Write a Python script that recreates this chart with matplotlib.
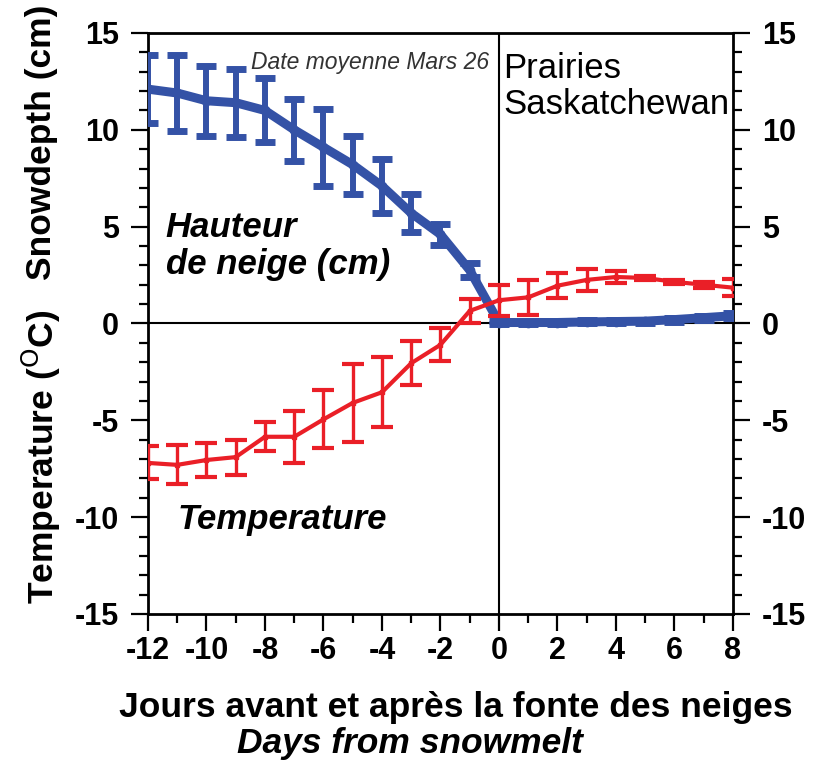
import matplotlib
matplotlib.use("Agg")
import matplotlib.pyplot as plt
from matplotlib.ticker import MultipleLocator

plt.rcParams["axes.unicode_minus"] = False

# days relative to snowmelt
DAYS = list(range(-12, 9))
# snow depth (cm): mean and error bar half-width
SNOW = [12.1, 11.9, 11.5, 11.4, 11.0, 10.0, 9.1, 8.2, 7.1, 5.7, 4.6, 2.75,
        0.05, 0.05, 0.05, 0.08, 0.1, 0.12, 0.2, 0.3, 0.4]
SNOW_ERR = [1.75, 1.95, 1.8, 1.75, 1.65, 1.6, 2.0, 1.5, 1.4, 1.0, 0.55, 0.35,
            0.08, 0.08, 0.08, 0.08, 0.08, 0.08, 0.1, 0.1, 0.12]
# temperature (deg C)
TEMP = [-7.2, -7.3, -7.05, -6.9, -5.85, -5.85, -4.95, -4.1, -3.55, -2.05, -1.1, 0.65,
        1.2, 1.35, 1.95, 2.25, 2.4, 2.35, 2.15, 2.0, 1.85]
TEMP_ERR = [0.85, 1.0, 0.9, 0.9, 0.75, 1.35, 1.5, 2.0, 1.8, 1.15, 0.85, 0.6,
            0.8, 0.9, 0.65, 0.55, 0.3, 0.1, 0.1, 0.15, 0.45]

BLUE = "#3452a6"
RED = "#ea1f27"
SANS = ["Liberation Sans", "DejaVu Sans"]

fig = plt.figure(figsize=(8.23, 7.67), dpi=100)
ax = fig.add_axes([0.1798, 0.1995, 0.7108, 0.7575])

ax.axhline(0, color="black", lw=1.5, zorder=1)
ax.axvline(0, color="black", lw=1.5, zorder=1)

ax.errorbar(DAYS, SNOW, yerr=SNOW_ERR, color=BLUE, lw=6.5, elinewidth=4.3,
            capsize=7, capthick=5, marker="o", ms=6, solid_capstyle="round", zorder=3)
ax.errorbar(DAYS, TEMP, yerr=TEMP_ERR, color=RED, lw=3, elinewidth=2.4,
            capsize=8, capthick=3, marker="s", ms=3.5, zorder=4)

ax.set_xlim(-12, 8)
ax.set_ylim(-15, 15)
ax.xaxis.set_major_locator(MultipleLocator(2))
ax.xaxis.set_minor_locator(MultipleLocator(1))
ax.yaxis.set_major_locator(MultipleLocator(5))
ax.yaxis.set_minor_locator(MultipleLocator(1))
ax.tick_params(which="both", direction="out", width=1.6, right=True, labelright=True, top=False)
ax.tick_params(which="major", length=12)
ax.tick_params(which="minor", length=6.5)
ax.tick_params(axis="y", pad=9)
ax.tick_params(axis="x", pad=4)
for s in ax.spines.values():
    s.set_linewidth(2)

for lab in ax.get_yticklabels() + ax.get_xticklabels():
    lab.set_fontfamily(SANS); lab.set_fontweight("bold"); lab.set_fontsize(22)

fig.text(0.05, 0.815, "Snowdepth (cm)", rotation=90, ha="center", va="center",
         fontsize=25.5, fontweight="bold", family=SANS)
fig.text(0.05, 0.405, r"Temperature ($^{\rm O}$C)", rotation=90, ha="center", va="center",
         fontsize=25.5, fontweight="bold", family=SANS)
fig.text(0.5535, 0.078, "Jours avant et après la fonte des neiges", ha="center", va="center",
         fontsize=25.5, fontweight="bold", family=SANS)
fig.text(0.498, 0.031, "Days from snowmelt", ha="center", va="center",
         fontsize=25.5, fontweight="bold", style="italic", family=SANS)

ax.text(-0.35, 13.5, "Date moyenne Mars 26", ha="right", va="center",
        fontsize=16.5, style="italic", color="#333333", family=SANS)
ax.text(0.15, 12.25, "Prairies\nSaskatchewan", ha="left", va="center",
        fontsize=25, family=SANS, linespacing=1.12)
ax.text(-11.4, 4.0, "Hauteur\nde neige (cm)", ha="left", va="center",
        fontsize=25, fontweight="bold", style="italic", family=SANS, linespacing=1.15)
ax.text(-11.0, -10.1, "Temperature", ha="left", va="center",
        fontsize=25, fontweight="bold", style="italic", family=SANS)

fig.savefig("out.png", dpi=100)
